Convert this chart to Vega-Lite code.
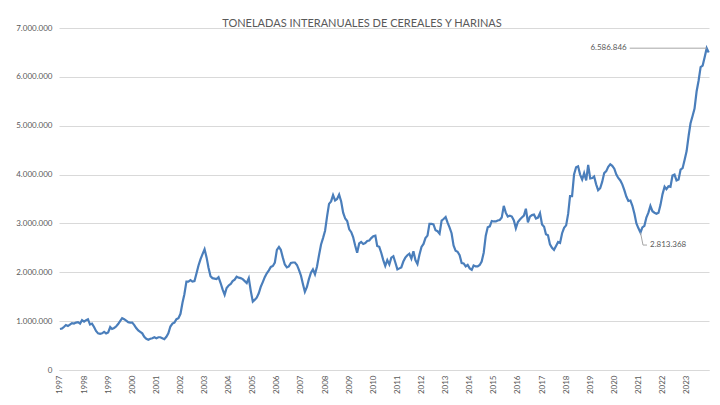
{
  "$schema": "https://vega.github.io/schema/vega-lite/v6.json",
  "width": 650,
  "height": 342,
  "autosize": {"type": "none"},
  "padding": {"left": 59, "top": 28, "right": 11, "bottom": 35},
  "background": "white",
  "config": {
    "locale": {"number": {"decimal": ",", "thousands": ".", "grouping": [3], "currency": ["", "€"]}},
    "view": {"stroke": null},
    "font": "Lato"
  },
  "title": {
    "text": "TONELADAS INTERANUALES DE CEREALES Y HARINAS",
    "fontSize": 11,
    "fontWeight": "normal",
    "color": "#595959",
    "anchor": "middle",
    "frame": "group",
    "dx": -22,
    "dy": 17,
    "baseline": "alphabetic",
    "offset": 3
  },
  "data": {
    "values": [
      {"d": "1997-01", "v": 840000}, {"d": "1997-02", "v": 850000}, {"d": "1997-03", "v": 880000}, {"d": "1997-04", "v": 920000}, {"d": "1997-05", "v": 900000}, {"d": "1997-06", "v": 930000}, {"d": "1997-07", "v": 960000}, {"d": "1997-08", "v": 950000}, {"d": "1997-09", "v": 970000}, {"d": "1997-10", "v": 980000}, {"d": "1997-11", "v": 950000}, {"d": "1997-12", "v": 1020000},
      {"d": "1998-01", "v": 990000}, {"d": "1998-02", "v": 1020000}, {"d": "1998-03", "v": 1040000}, {"d": "1998-04", "v": 930000}, {"d": "1998-05", "v": 950000}, {"d": "1998-06", "v": 880000}, {"d": "1998-07", "v": 800000}, {"d": "1998-08", "v": 750000}, {"d": "1998-09", "v": 740000}, {"d": "1998-10", "v": 750000}, {"d": "1998-11", "v": 780000}, {"d": "1998-12", "v": 750000},
      {"d": "1999-01", "v": 770000}, {"d": "1999-02", "v": 880000}, {"d": "1999-03", "v": 840000}, {"d": "1999-04", "v": 860000}, {"d": "1999-05", "v": 890000}, {"d": "1999-06", "v": 940000}, {"d": "1999-07", "v": 1000000}, {"d": "1999-08", "v": 1060000}, {"d": "1999-09", "v": 1040000}, {"d": "1999-10", "v": 1010000}, {"d": "1999-11", "v": 980000}, {"d": "1999-12", "v": 970000},
      {"d": "2000-01", "v": 970000}, {"d": "2000-02", "v": 920000}, {"d": "2000-03", "v": 860000}, {"d": "2000-04", "v": 810000}, {"d": "2000-05", "v": 780000}, {"d": "2000-06", "v": 750000}, {"d": "2000-07", "v": 680000}, {"d": "2000-08", "v": 640000}, {"d": "2000-09", "v": 620000}, {"d": "2000-10", "v": 640000}, {"d": "2000-11", "v": 650000}, {"d": "2000-12", "v": 670000},
      {"d": "2001-01", "v": 650000}, {"d": "2001-02", "v": 670000}, {"d": "2001-03", "v": 670000}, {"d": "2001-04", "v": 650000}, {"d": "2001-05", "v": 630000}, {"d": "2001-06", "v": 680000}, {"d": "2001-07", "v": 750000}, {"d": "2001-08", "v": 890000}, {"d": "2001-09", "v": 950000}, {"d": "2001-10", "v": 970000}, {"d": "2001-11", "v": 1040000}, {"d": "2001-12", "v": 1060000},
      {"d": "2002-01", "v": 1150000}, {"d": "2002-02", "v": 1380000}, {"d": "2002-03", "v": 1550000}, {"d": "2002-04", "v": 1810000}, {"d": "2002-05", "v": 1810000}, {"d": "2002-06", "v": 1840000}, {"d": "2002-07", "v": 1810000}, {"d": "2002-08", "v": 1820000}, {"d": "2002-09", "v": 1980000}, {"d": "2002-10", "v": 2140000}, {"d": "2002-11", "v": 2270000}, {"d": "2002-12", "v": 2370000},
      {"d": "2003-01", "v": 2470000}, {"d": "2003-02", "v": 2300000}, {"d": "2003-03", "v": 2100000}, {"d": "2003-04", "v": 1920000}, {"d": "2003-05", "v": 1880000}, {"d": "2003-06", "v": 1870000}, {"d": "2003-07", "v": 1860000}, {"d": "2003-08", "v": 1900000}, {"d": "2003-09", "v": 1780000}, {"d": "2003-10", "v": 1650000}, {"d": "2003-11", "v": 1540000}, {"d": "2003-12", "v": 1680000},
      {"d": "2004-01", "v": 1730000}, {"d": "2004-02", "v": 1760000}, {"d": "2004-03", "v": 1820000}, {"d": "2004-04", "v": 1850000}, {"d": "2004-05", "v": 1910000}, {"d": "2004-06", "v": 1890000}, {"d": "2004-07", "v": 1880000}, {"d": "2004-08", "v": 1860000}, {"d": "2004-09", "v": 1820000}, {"d": "2004-10", "v": 1780000}, {"d": "2004-11", "v": 1880000}, {"d": "2004-12", "v": 1620000},
      {"d": "2005-01", "v": 1400000}, {"d": "2005-02", "v": 1440000}, {"d": "2005-03", "v": 1480000}, {"d": "2005-04", "v": 1570000}, {"d": "2005-05", "v": 1700000}, {"d": "2005-06", "v": 1800000}, {"d": "2005-07", "v": 1900000}, {"d": "2005-08", "v": 1980000}, {"d": "2005-09", "v": 2040000}, {"d": "2005-10", "v": 2110000}, {"d": "2005-11", "v": 2130000}, {"d": "2005-12", "v": 2200000},
      {"d": "2006-01", "v": 2460000}, {"d": "2006-02", "v": 2520000}, {"d": "2006-03", "v": 2460000}, {"d": "2006-04", "v": 2300000}, {"d": "2006-05", "v": 2160000}, {"d": "2006-06", "v": 2100000}, {"d": "2006-07", "v": 2120000}, {"d": "2006-08", "v": 2190000}, {"d": "2006-09", "v": 2200000}, {"d": "2006-10", "v": 2200000}, {"d": "2006-11", "v": 2150000}, {"d": "2006-12", "v": 2050000},
      {"d": "2007-01", "v": 1930000}, {"d": "2007-02", "v": 1750000}, {"d": "2007-03", "v": 1600000}, {"d": "2007-04", "v": 1700000}, {"d": "2007-05", "v": 1860000}, {"d": "2007-06", "v": 1990000}, {"d": "2007-07", "v": 2060000}, {"d": "2007-08", "v": 1960000}, {"d": "2007-09", "v": 2120000}, {"d": "2007-10", "v": 2350000}, {"d": "2007-11", "v": 2570000}, {"d": "2007-12", "v": 2700000},
      {"d": "2008-01", "v": 2850000}, {"d": "2008-02", "v": 3150000}, {"d": "2008-03", "v": 3400000}, {"d": "2008-04", "v": 3450000}, {"d": "2008-05", "v": 3580000}, {"d": "2008-06", "v": 3470000}, {"d": "2008-07", "v": 3500000}, {"d": "2008-08", "v": 3590000}, {"d": "2008-09", "v": 3450000}, {"d": "2008-10", "v": 3220000}, {"d": "2008-11", "v": 3100000}, {"d": "2008-12", "v": 3050000},
      {"d": "2009-01", "v": 2880000}, {"d": "2009-02", "v": 2820000}, {"d": "2009-03", "v": 2720000}, {"d": "2009-04", "v": 2550000}, {"d": "2009-05", "v": 2400000}, {"d": "2009-06", "v": 2590000}, {"d": "2009-07", "v": 2620000}, {"d": "2009-08", "v": 2580000}, {"d": "2009-09", "v": 2600000}, {"d": "2009-10", "v": 2640000}, {"d": "2009-11", "v": 2650000}, {"d": "2009-12", "v": 2700000},
      {"d": "2010-01", "v": 2740000}, {"d": "2010-02", "v": 2750000}, {"d": "2010-03", "v": 2540000}, {"d": "2010-04", "v": 2520000}, {"d": "2010-05", "v": 2400000}, {"d": "2010-06", "v": 2250000}, {"d": "2010-07", "v": 2130000}, {"d": "2010-08", "v": 2250000}, {"d": "2010-09", "v": 2160000}, {"d": "2010-10", "v": 2300000}, {"d": "2010-11", "v": 2330000}, {"d": "2010-12", "v": 2200000},
      {"d": "2011-01", "v": 2060000}, {"d": "2011-02", "v": 2080000}, {"d": "2011-03", "v": 2100000}, {"d": "2011-04", "v": 2220000}, {"d": "2011-05", "v": 2300000}, {"d": "2011-06", "v": 2350000}, {"d": "2011-07", "v": 2380000}, {"d": "2011-08", "v": 2280000}, {"d": "2011-09", "v": 2430000}, {"d": "2011-10", "v": 2250000}, {"d": "2011-11", "v": 2170000}, {"d": "2011-12", "v": 2360000},
      {"d": "2012-01", "v": 2520000}, {"d": "2012-02", "v": 2580000}, {"d": "2012-03", "v": 2700000}, {"d": "2012-04", "v": 2750000}, {"d": "2012-05", "v": 2990000}, {"d": "2012-06", "v": 2990000}, {"d": "2012-07", "v": 2980000}, {"d": "2012-08", "v": 2860000}, {"d": "2012-09", "v": 2840000}, {"d": "2012-10", "v": 2790000}, {"d": "2012-11", "v": 3060000}, {"d": "2012-12", "v": 3090000},
      {"d": "2013-01", "v": 3130000}, {"d": "2013-02", "v": 3010000}, {"d": "2013-03", "v": 2920000}, {"d": "2013-04", "v": 2800000}, {"d": "2013-05", "v": 2550000}, {"d": "2013-06", "v": 2440000}, {"d": "2013-07", "v": 2420000}, {"d": "2013-08", "v": 2350000}, {"d": "2013-09", "v": 2190000}, {"d": "2013-10", "v": 2180000}, {"d": "2013-11", "v": 2120000}, {"d": "2013-12", "v": 2150000},
      {"d": "2014-01", "v": 2080000}, {"d": "2014-02", "v": 2050000}, {"d": "2014-03", "v": 2140000}, {"d": "2014-04", "v": 2120000}, {"d": "2014-05", "v": 2120000}, {"d": "2014-06", "v": 2150000}, {"d": "2014-07", "v": 2220000}, {"d": "2014-08", "v": 2400000}, {"d": "2014-09", "v": 2750000}, {"d": "2014-10", "v": 2920000}, {"d": "2014-11", "v": 2940000}, {"d": "2014-12", "v": 3050000},
      {"d": "2015-01", "v": 3040000}, {"d": "2015-02", "v": 3040000}, {"d": "2015-03", "v": 3060000}, {"d": "2015-04", "v": 3070000}, {"d": "2015-05", "v": 3120000}, {"d": "2015-06", "v": 3360000}, {"d": "2015-07", "v": 3220000}, {"d": "2015-08", "v": 3140000}, {"d": "2015-09", "v": 3160000}, {"d": "2015-10", "v": 3140000}, {"d": "2015-11", "v": 3060000}, {"d": "2015-12", "v": 2900000},
      {"d": "2016-01", "v": 3030000}, {"d": "2016-02", "v": 3080000}, {"d": "2016-03", "v": 3120000}, {"d": "2016-04", "v": 3160000}, {"d": "2016-05", "v": 3300000}, {"d": "2016-06", "v": 3020000}, {"d": "2016-07", "v": 3140000}, {"d": "2016-08", "v": 3170000}, {"d": "2016-09", "v": 3180000}, {"d": "2016-10", "v": 3100000}, {"d": "2016-11", "v": 3120000}, {"d": "2016-12", "v": 3210000},
      {"d": "2017-01", "v": 2980000}, {"d": "2017-02", "v": 2930000}, {"d": "2017-03", "v": 2780000}, {"d": "2017-04", "v": 2760000}, {"d": "2017-05", "v": 2570000}, {"d": "2017-06", "v": 2500000}, {"d": "2017-07", "v": 2460000}, {"d": "2017-08", "v": 2540000}, {"d": "2017-09", "v": 2620000}, {"d": "2017-10", "v": 2600000}, {"d": "2017-11", "v": 2800000}, {"d": "2017-12", "v": 2910000},
      {"d": "2018-01", "v": 2960000}, {"d": "2018-02", "v": 3200000}, {"d": "2018-03", "v": 3560000}, {"d": "2018-04", "v": 3560000}, {"d": "2018-05", "v": 4000000}, {"d": "2018-06", "v": 4150000}, {"d": "2018-07", "v": 4170000}, {"d": "2018-08", "v": 4000000}, {"d": "2018-09", "v": 3900000}, {"d": "2018-10", "v": 4030000}, {"d": "2018-11", "v": 3880000}, {"d": "2018-12", "v": 4200000},
      {"d": "2019-01", "v": 3920000}, {"d": "2019-02", "v": 3930000}, {"d": "2019-03", "v": 3960000}, {"d": "2019-04", "v": 3800000}, {"d": "2019-05", "v": 3680000}, {"d": "2019-06", "v": 3720000}, {"d": "2019-07", "v": 3850000}, {"d": "2019-08", "v": 4030000}, {"d": "2019-09", "v": 4070000}, {"d": "2019-10", "v": 4160000}, {"d": "2019-11", "v": 4210000}, {"d": "2019-12", "v": 4180000},
      {"d": "2020-01", "v": 4120000}, {"d": "2020-02", "v": 4000000}, {"d": "2020-03", "v": 3930000}, {"d": "2020-04", "v": 3880000}, {"d": "2020-05", "v": 3800000}, {"d": "2020-06", "v": 3680000}, {"d": "2020-07", "v": 3550000}, {"d": "2020-08", "v": 3460000}, {"d": "2020-09", "v": 3470000}, {"d": "2020-10", "v": 3360000}, {"d": "2020-11", "v": 3200000}, {"d": "2020-12", "v": 3000000},
      {"d": "2021-01", "v": 2900000}, {"d": "2021-02", "v": 2813368}, {"d": "2021-03", "v": 2920000}, {"d": "2021-04", "v": 2950000}, {"d": "2021-05", "v": 3120000}, {"d": "2021-06", "v": 3220000}, {"d": "2021-07", "v": 3360000}, {"d": "2021-08", "v": 3250000}, {"d": "2021-09", "v": 3220000}, {"d": "2021-10", "v": 3200000}, {"d": "2021-11", "v": 3220000}, {"d": "2021-12", "v": 3380000},
      {"d": "2022-01", "v": 3600000}, {"d": "2022-02", "v": 3750000}, {"d": "2022-03", "v": 3700000}, {"d": "2022-04", "v": 3760000}, {"d": "2022-05", "v": 3750000}, {"d": "2022-06", "v": 3980000}, {"d": "2022-07", "v": 4000000}, {"d": "2022-08", "v": 3880000}, {"d": "2022-09", "v": 3900000}, {"d": "2022-10", "v": 4100000}, {"d": "2022-11", "v": 4130000}, {"d": "2022-12", "v": 4300000},
      {"d": "2023-01", "v": 4480000}, {"d": "2023-02", "v": 4800000}, {"d": "2023-03", "v": 5050000}, {"d": "2023-04", "v": 5200000}, {"d": "2023-05", "v": 5350000}, {"d": "2023-06", "v": 5700000}, {"d": "2023-07", "v": 5920000}, {"d": "2023-08", "v": 6200000}, {"d": "2023-09", "v": 6230000}, {"d": "2023-10", "v": 6400000}, {"d": "2023-11", "v": 6586846}, {"d": "2023-12", "v": 6500000}
    ]
  },
  "encoding": {
    "x": {
      "field": "d",
      "type": "temporal",
      "scale": {"type": "utc", "domain": [{"year": 1996, "month": 12, "date": 17, "utc": true}, {"year": 2023, "month": 12, "date": 6, "utc": true}]},
      "axis": {
        "title": null,
        "format": "%Y",
        "tickCount": {"interval": "year", "step": 1},
        "labelAngle": -90,
        "labelFontSize": 8,
        "labelColor": "#595959",
        "labelPadding": 5,
        "labelFlush": false,
        "labelOverlap": false,
        "ticks": false,
        "grid": false,
        "domain": true,
        "domainColor": "#d9d9d9"
      }
    },
    "y": {
      "field": "v",
      "type": "quantitative",
      "scale": {"domain": [0, 7000000]},
      "axis": {
        "title": null,
        "values": [0, 1000000, 2000000, 3000000, 4000000, 5000000, 6000000, 7000000],
        "format": ",d",
        "labelFontSize": 8,
        "labelColor": "#595959",
        "labelPadding": 7,
        "ticks": false,
        "domain": false,
        "gridColor": "#d9d9d9",
        "gridWidth": 1
      }
    }
  },
  "layer": [
    {"mark": {"type": "line", "color": "#4a7ebb", "strokeWidth": 2.2}},
    {
      "transform": [{"filter": "datum.v == 6586846"}],
      "mark": {"type": "rule", "color": "#a6a6a6", "strokeWidth": 1, "x2Offset": -77},
      "encoding": {"x2": {"field": "d"}}
    },
    {
      "transform": [{"filter": "datum.v == 6586846"}],
      "mark": {"type": "text", "align": "right", "baseline": "middle", "dx": -80, "fontSize": 8, "color": "#595959"},
      "encoding": {"text": {"field": "v", "type": "quantitative", "format": ",d"}}
    },
    {
      "transform": [{"filter": "datum.v == 2813368"}],
      "mark": {"type": "rule", "color": "#a6a6a6", "strokeWidth": 1, "x2Offset": 2.5, "y2Offset": 12.5},
      "encoding": {"x2": {"field": "d"}, "y2": {"field": "v"}}
    },
    {
      "transform": [{"filter": "datum.v == 2813368"}],
      "mark": {"type": "rule", "color": "#a6a6a6", "strokeWidth": 1, "xOffset": 2.5, "x2Offset": 6.5, "yOffset": 12.5, "y2Offset": 12.5},
      "encoding": {"x2": {"field": "d"}, "y2": {"field": "v"}}
    },
    {
      "transform": [{"filter": "datum.v == 2813368"}],
      "mark": {"type": "text", "align": "left", "baseline": "middle", "dx": 9.5, "dy": 12.5, "fontSize": 8, "color": "#595959"},
      "encoding": {"text": {"field": "v", "type": "quantitative", "format": ",d"}}
    }
  ]
}
